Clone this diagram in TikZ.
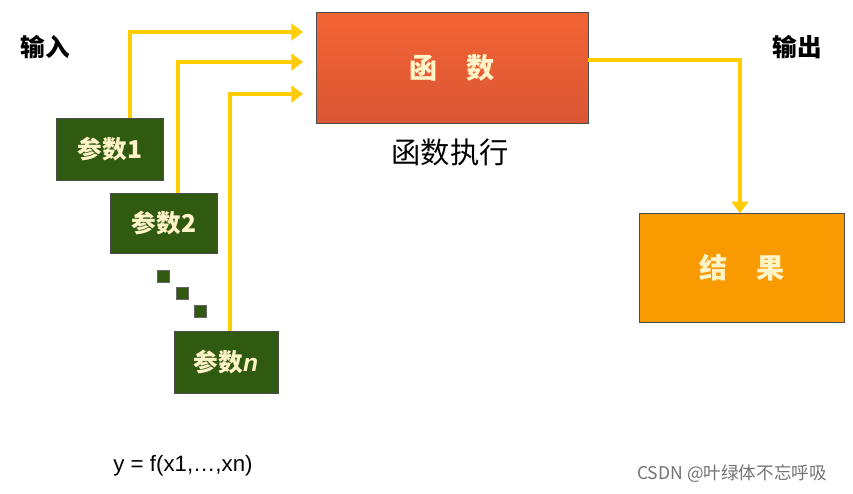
\documentclass[tikz,border=0pt]{standalone}
\usepackage{fontspec}
\setmainfont{Noto Sans CJK SC}
\newfontfamily\latf{Liberation Sans}
\usetikzlibrary{arrows.meta}
\definecolor{ylw}{HTML}{FFCC00}
\definecolor{grn}{HTML}{2F5A10}
\definecolor{fred}{HTML}{F2603A}
\definecolor{ora}{HTML}{F99A00}
\definecolor{txt}{HTML}{FFF3C8}
\tikzset{
 px/.style={x=0.03cm,y=-0.03cm},
 parbox/.style={draw=black!70,fill=grn,text=txt,font=\bfseries\fontsize{21}{23}\selectfont,inner sep=0},
 dot/.style={fill=grn,draw=black!60,minimum size=0.36cm,inner sep=0},
 yarr/.style={draw=ylw,line width=1.3mm,-{Triangle[length=3.5mm,width=5mm]}},
 lab/.style={font=\bfseries\fontsize{21}{23}\selectfont}
}
\begin{document}
\begin{tikzpicture}[px]
\useasboundingbox (0,0) rectangle (853,493);
\node[lab] (in) at (45,47) {输入};
\node[lab] (out) at (797,47) {输出};
\node[draw=black!70,top color=fred!90!orange,bottom color=fred!90!black,minimum width=8.16cm,minimum height=3.33cm,text=txt,font=\bfseries\fontsize{24}{26}\selectfont] (f) at (452,68) {函\quad 数};
\node[font=\fontsize{25}{27}\selectfont] (fx) at (450,152) {函数执行};
\node[draw=black!70,fill=ora,minimum width=6.15cm,minimum height=3.27cm,text=txt,font=\bfseries\fontsize{24}{26}\selectfont] (r) at (742,268) {结\quad 果};
\node[parbox,minimum width=3.21cm,minimum height=1.86cm] (p1) at (110,149) {参数1};
\node[parbox,minimum width=3.21cm,minimum height=1.8cm] (p2) at (164,223) {参数2};
\node[parbox,minimum width=3.12cm,minimum height=1.86cm] (pn) at (226,362) {参数{\latf\itshape n}};
\node[dot] (d1) at (163,276) {};
\node[dot] (d2) at (182,293) {};
\node[dot] (d3) at (200,311) {};
\coordinate (a1) at (303,32);
\coordinate (a2) at (303,62);
\coordinate (a3) at (303,94);
\draw[yarr] (p1.north -| 130,0) |- (a1);
\draw[yarr] (p2.north -| 178,0) |- (a2);
\draw[yarr] (pn.north -| 230,0) |- (a3);
\draw[yarr] (f.east |- 0,60) -| (r.north -| 740,0);
\node[font=\latf\fontsize{19}{21}\selectfont] (eq) at (183,466) {y = f(x1,…,xn)};
\node[text=black!55,font=\fontsize{15}{17}\selectfont] (cs) at (732,474) {CSDN @叶绿体不忘呼吸};
\end{tikzpicture}
\end{document}
